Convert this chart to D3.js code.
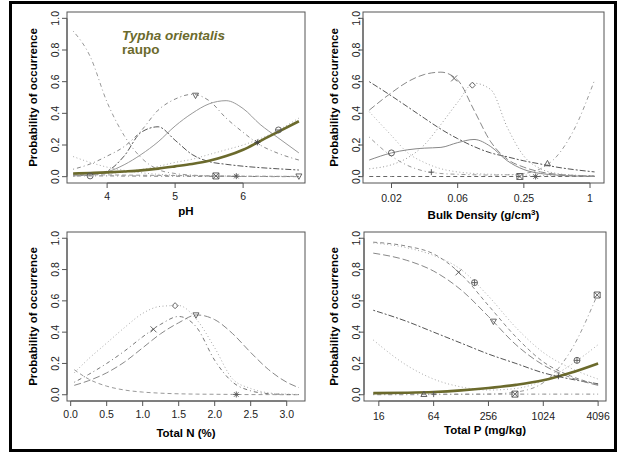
<!DOCTYPE html>
<html><head><meta charset="utf-8">
<script src="https://cdn.jsdelivr.net/npm/d3@7"></script>
<style>body{margin:0;background:#fff}svg{display:block}text{font-family:"Liberation Sans",Arial,sans-serif}</style>
</head><body><svg id="c" width="622" height="461"></svg>
<script>
// ---------------- DATA ----------------
const yTicks = [0, 0.2, 0.4, 0.6, 0.8, 1.0];
const yTickLabels = ["0.0", "0.2", "0.4", "0.6", "0.8", "1.0"];

// Panel 1 : pH
const phX = [3.5, 3.75, 4.0, 4.25, 4.5, 4.75, 5.0, 5.25, 5.5, 5.75, 6.0, 6.25, 6.5, 6.82];
const phTypha   = [0.020, 0.023, 0.027, 0.033, 0.040, 0.051, 0.065, 0.080, 0.100, 0.130, 0.170, 0.225, 0.280, 0.350];
const phSteep   = [0.92, 0.76, 0.47, 0.26, 0.12, 0.045, 0.02, 0.01, 0.004, 0.002, 0.001, 0.001, 0, 0];
const phPeakLow = [0.005, 0.012, 0.035, 0.13, 0.28, 0.315, 0.23, 0.14, 0.095, 0.078, 0.066, 0.057, 0.05, 0.042];
const phWide    = [0.047, 0.08, 0.13, 0.19, 0.29, 0.42, 0.49, 0.52, 0.48, 0.37, 0.28, 0.20, 0.15, 0.105];
const phSolid   = [0.005, 0.012, 0.03, 0.075, 0.14, 0.22, 0.32, 0.40, 0.46, 0.48, 0.43, 0.33, 0.25, 0.15];
const phRise    = [0.01, 0.015, 0.02, 0.03, 0.045, 0.065, 0.09, 0.11, 0.14, 0.17, 0.20, 0.24, 0.29, 0.37];
const phDecl    = [0.127, 0.09, 0.06, 0.04, 0.025, 0.015, 0.01, 0.007, 0.005, 0.004, 0.003, 0.002, 0.002, 0.001];
const phFlatA   = [0.006, 0.005, 0.005, 0.004, 0.004, 0.003, 0.003, 0.002, 0.002, 0.002, 0.001, 0.001, 0.001, 0.001];
const phFlatB   = [0.012, 0.012, 0.011, 0.010, 0.009, 0.008, 0.007, 0.006, 0.005, 0.004, 0.003, 0.003, 0.002, 0.002];
const phTicks = [4, 5, 6];

// Panel 2 : Bulk density (g/cm3), log-4 axis
const bdX = [0.0098, 0.0156, 0.022, 0.031, 0.044, 0.0625, 0.088, 0.125, 0.177, 0.25, 0.354, 0.5, 0.707, 1.1];
const bdCross   = [0.42, 0.53, 0.60, 0.645, 0.66, 0.61, 0.42, 0.22, 0.11, 0.06, 0.03, 0.015, 0.008, 0.004];
const bdDiamond = [0.05, 0.075, 0.12, 0.20, 0.33, 0.47, 0.59, 0.55, 0.31, 0.13, 0.05, 0.02, 0.01, 0.005];
const bdLinear  = [0.60, 0.51, 0.44, 0.37, 0.30, 0.24, 0.19, 0.15, 0.125, 0.10, 0.08, 0.06, 0.045, 0.03];
const bdSolid   = [0.105, 0.15, 0.17, 0.18, 0.185, 0.215, 0.235, 0.19, 0.10, 0.045, 0.02, 0.01, 0.004, 0.002];
const bdDotted  = [0.41, 0.26, 0.15, 0.09, 0.05, 0.03, 0.02, 0.015, 0.012, 0.01, 0.008, 0.006, 0.005, 0.004];
const bdU       = [0.25, 0.13, 0.07, 0.035, 0.02, 0.015, 0.012, 0.01, 0.012, 0.02, 0.05, 0.13, 0.29, 0.61];
const bdFlat    = [0.001, 0.001, 0.001, 0.001, 0.001, 0.001, 0.001, 0.001, 0.001, 0.001, 0.001, 0.001, 0.001, 0.001];
const bdTicks = [1/64, 1/16, 1/4, 1];
const bdTickLabels = ["0.02", "0.06", "0.25", "1"];

// Panel 3 : Total N (%)
const tnX = [0.05, 0.25, 0.5, 0.75, 1.0, 1.25, 1.5, 1.75, 2.0, 2.25, 2.5, 2.75, 3.0, 3.17];
const tnDiamond = [0.14, 0.23, 0.33, 0.43, 0.52, 0.565, 0.57, 0.48, 0.30, 0.10, 0.04, 0.012, 0.004, 0.002];
const tnCross   = [0.08, 0.13, 0.20, 0.28, 0.37, 0.45, 0.50, 0.43, 0.22, 0.08, 0.025, 0.007, 0.002, 0.001];
const tnTri     = [0.06, 0.09, 0.14, 0.21, 0.30, 0.39, 0.46, 0.51, 0.48, 0.39, 0.27, 0.16, 0.08, 0.045];
const tnDecl    = [0.16, 0.10, 0.055, 0.03, 0.017, 0.01, 0.006, 0.004, 0.003, 0.002, 0.001, 0.001, 0, 0];
const tnTicks = [0, 0.5, 1.0, 1.5, 2.0, 2.5, 3.0];
const tnTickLabels = ["0.0", "0.5", "1.0", "1.5", "2.0", "2.5", "3.0"];

// Panel 4 : Total P (mg/kg), log-4 axis
const tpX = [13.9, 32, 64, 128, 256, 512, 1024, 2048, 4096];
const tpTypha   = [0.010, 0.013, 0.018, 0.028, 0.043, 0.063, 0.092, 0.14, 0.20];
const tpCross   = [0.975, 0.95, 0.90, 0.77, 0.57, 0.37, 0.21, 0.12, 0.065];
const tpDiamond = [0.97, 0.94, 0.89, 0.80, 0.63, 0.43, 0.27, 0.17, 0.10];
const tpTri     = [0.905, 0.86, 0.79, 0.67, 0.50, 0.32, 0.19, 0.11, 0.06];
const tpLinear  = [0.54, 0.47, 0.40, 0.33, 0.26, 0.20, 0.14, 0.10, 0.07];
const tpU       = [0.35, 0.19, 0.10, 0.05, 0.03, 0.04, 0.09, 0.19, 0.32];
const tpSteep   = [0, 0, 0.001, 0.002, 0.004, 0.017, 0.077, 0.28, 0.65];
const tpFlat    = [0.004, 0.004, 0.004, 0.004, 0.004, 0.004, 0.004, 0.004, 0.004];
const tpTicks = [16, 64, 256, 1024, 4096];

const typhaTitle = "Typha orientalis";
const typhaCommon = "raupo";

// ---------------- DRAW ----------------
const OLIVE = "#6b6a2c";
const svg = d3.select("#c");
svg.append("rect").attr("x", 0).attr("y", 0).attr("width", 622).attr("height", 461).attr("fill", "#fff");
svg.append("rect").attr("x", 10.5).attr("y", 2.5).attr("width", 605).attr("height", 448)
  .attr("fill", "none").attr("stroke", "#000").attr("stroke-width", 3);

const DASH = {solid: null, dashed: "4,3", dotted: "1,2.5", dotdash: "1,3,4,3", longdash: "7,3", twodash: "2,2,6,2"};

function symbol(g, shape, cx, cy, color) {
  const r = 3;
  const s = g.append("g").attr("transform", `translate(${cx},${cy})`)
    .attr("fill", "none").attr("stroke", color).attr("stroke-width", 0.9);
  const p = d => s.append("path").attr("d", d);
  if (shape === "circle") s.append("circle").attr("r", r);
  if (shape === "tri") p(`M0,${-r}L${r},${r*0.8}L${-r},${r*0.8}Z`);
  if (shape === "itri") p(`M0,${r}L${r},${-r*0.8}L${-r},${-r*0.8}Z`);
  if (shape === "plus") p(`M${-r},0H${r}M0,${-r}V${r}`);
  if (shape === "x") p(`M${-r},${-r}L${r},${r}M${-r},${r}L${r},${-r}`);
  if (shape === "diamond") p(`M0,${-r}L${r},0L0,${r}L${-r},0Z`);
  if (shape === "boxx") p(`M${-r},${-r}H${r}V${r}H${-r}ZM${-r},${-r}L${r},${r}M${-r},${r}L${r},${-r}`);
  if (shape === "star") p(`M${-r},0H${r}M0,${-r}V${r}M${-r*0.75},${-r*0.75}L${r*0.75},${r*0.75}M${-r*0.75},${r*0.75}L${r*0.75},${-r*0.75}`);
  if (shape === "oplus") { s.append("circle").attr("r", r); p(`M${-r},0H${r}M0,${-r}V${r}`); }
  if (shape === "theta") { s.append("circle").attr("r", r); p(`M${-r},0H${r}`); }
}

function interp(xs, ys, x, log) {
  const f = log ? Math.log : (v => v);
  for (let i = 0; i < xs.length - 1; i++) {
    if (x >= xs[i] && x <= xs[i+1]) {
      const t = (f(x) - f(xs[i])) / (f(xs[i+1]) - f(xs[i]));
      return ys[i] + t * (ys[i+1] - ys[i]);
    }
  }
  return ys[ys.length - 1];
}

function panel(cfg) {
  const {L, R, T, B} = cfg;
  const g = svg.append("g");
  const x = cfg.log ? d3.scaleLog().base(4).domain(cfg.xdom).range([L, R])
                    : d3.scaleLinear().domain(cfg.xdom).range([L, R]);
  const y = d3.scaleLinear().domain([-0.04, 1.04]).range([B, T]);

  const clip = "clip" + Math.round(L) + Math.round(T);
  svg.append("clipPath").attr("id", clip).append("rect").attr("x", L).attr("y", T).attr("width", R - L).attr("height", B - T);
  const lines = g.append("g").attr("clip-path", `url(#${clip})`);

  const line = d3.line().curve(d3.curveMonotoneX);
  cfg.series.forEach(s => {
    const pts = cfg.xs.map((v, i) => [x(v), y(s.v[i])]);
    lines.append("path").attr("d", line(pts)).attr("fill", "none")
      .attr("stroke", s.c).attr("stroke-width", s.w || 1)
      .attr("stroke-dasharray", DASH[s.d]);
  });
  cfg.series.forEach(s => {
    (s.m || []).forEach(([shape, mx]) => {
      symbol(g, shape, x(mx), y(interp(cfg.xs, s.v, mx, cfg.log)), s.mc || "#555");
    });
  });

  // box
  g.append("rect").attr("x", L).attr("y", T).attr("width", R - L).attr("height", B - T)
    .attr("fill", "none").attr("stroke", "#555").attr("stroke-width", 1);

  // y axis
  const ya = g.append("g");
  yTicks.forEach((t, i) => {
    ya.append("line").attr("x1", L - 5).attr("x2", L).attr("y1", y(t)).attr("y2", y(t)).attr("stroke", "#555");
    ya.append("text").attr("transform", `translate(${cfg.ytx},${y(t)}) rotate(-90)`)
      .attr("text-anchor", "middle").attr("font-size", 10.5).attr("fill", "#222").text(yTickLabels[i]);
  });
  ya.append("line").attr("x1", L).attr("x2", L).attr("y1", y(0)).attr("y2", y(1)).attr("stroke", "#555");
  g.append("text").attr("transform", `translate(${cfg.ylx},${(T + B) / 2}) rotate(-90)`)
    .attr("text-anchor", "middle").attr("font-size", 11.5).attr("font-weight", "bold").text("Probability of occurrence");

  // x axis
  cfg.xticks.forEach((t, i) => {
    g.append("line").attr("x1", x(t)).attr("x2", x(t)).attr("y1", B).attr("y2", B + 5).attr("stroke", "#555");
    g.append("text").attr("x", x(t)).attr("y", cfg.xty).attr("text-anchor", "middle")
      .attr("font-size", 10.5).attr("fill", "#222").text(cfg.xlabels ? cfg.xlabels[i] : String(t));
  });
  g.append("line").attr("x1", x(cfg.xticks[0])).attr("x2", x(cfg.xticks[cfg.xticks.length - 1]))
    .attr("y1", B).attr("y2", B).attr("stroke", "#555");
  const xt = g.append("text").attr("x", (L + R) / 2).attr("y", cfg.xly).attr("text-anchor", "middle")
    .attr("font-size", 11.5).attr("font-weight", "bold");
  if (cfg.xtitleSup) {
    xt.append("tspan").text(cfg.xtitle);
    xt.append("tspan").attr("dy", -4).attr("font-size", 8).text(cfg.xtitleSup);
    xt.append("tspan").attr("dy", 4).text(")");
  } else xt.text(cfg.xtitle);
  return {g, x, y};
}

const p1 = panel({
  L: 67, R: 305, T: 12, B: 183, xdom: [3.41, 6.91], log: false, xs: phX,
  xticks: phTicks, xty: 200, xtitle: "pH", xly: 215, ytx: 59, ylx: 37,
  series: [
    {v: phDecl, c: "#aaa", d: "dotted"},
    {v: phFlatA, c: "#777", d: "dotdash", m: [["circle", 3.75]]},
    {v: phFlatB, c: "#999", d: "dashed", m: [["boxx", 5.6], ["star", 5.9], ["itri", 6.82]]},
    {v: phSteep, c: "#999", d: "dotdash"},
    {v: phPeakLow, c: "#555", d: "twodash"},
    {v: phWide, c: "#888", d: "dotdash", m: [["itri", 5.3]]},
    {v: phSolid, c: "#999", d: "solid"},
    {v: phRise, c: "#aaa", d: "dotted", m: [["theta", 6.52]]},
    {v: phTypha, c: OLIVE, d: "solid", w: 2.6, m: [["star", 6.21]], mc: "#444"}
  ]
});
p1.g.append("text").attr("x", 122).attr("y", 40).attr("font-size", 13.5).attr("font-weight", "bold")
  .attr("font-style", "italic").attr("fill", OLIVE).text(typhaTitle);
p1.g.append("text").attr("x", 122).attr("y", 54).attr("font-size", 13.5).attr("font-weight", "bold")
  .attr("fill", OLIVE).text(typhaCommon);

panel({
  L: 363, R: 604, T: 12, B: 183, xdom: [0.0086, 1.34], log: true, xs: bdX,
  xticks: bdTicks, xlabels: bdTickLabels, xty: 202, xtitle: "Bulk Density (g/cm", xtitleSup: "3", xly: 219,
  ytx: 360, ylx: 338,
  series: [
    {v: bdFlat, c: "#666", d: "dashed", m: [["boxx", 0.23], ["star", 0.32]]},
    {v: bdDotted, c: "#aaa", d: "dotted"},
    {v: bdU, c: "#999", d: "dotdash", m: [["plus", 0.036], ["tri", 0.41]]},
    {v: bdLinear, c: "#555", d: "twodash"},
    {v: bdSolid, c: "#888", d: "solid", m: [["circle", 0.0156]]},
    {v: bdDiamond, c: "#999", d: "dotted", m: [["diamond", 0.085]]},
    {v: bdCross, c: "#888", d: "longdash", m: [["x", 0.058]]}
  ]
});

panel({
  L: 67, R: 305, T: 232, B: 401, xdom: [-0.051, 3.254], log: false, xs: tnX,
  xticks: tnTicks, xlabels: tnTickLabels, xty: 418, xtitle: "Total N (%)", xly: 437, ytx: 59, ylx: 37,
  series: [
    {v: tnDecl, c: "#999", d: "dashed", m: [["star", 2.3]]},
    {v: tnTri, c: "#888", d: "longdash", m: [["itri", 1.74]]},
    {v: tnCross, c: "#777", d: "dotdash", m: [["x", 1.15]]},
    {v: tnDiamond, c: "#aaa", d: "dotted", m: [["diamond", 1.45]]}
  ]
});

panel({
  L: 364, R: 606, T: 232, B: 401, xdom: [11.0, 5000], log: true, xs: tpX,
  xticks: tpTicks, xty: 420, xtitle: "Total P (mg/kg)", xly: 434, ytx: 360, ylx: 338,
  series: [
    {v: tpFlat, c: "#888", d: "dotdash", m: [["tri", 50], ["plus", 64], ["boxx", 500]]},
    {v: tpU, c: "#aaa", d: "dotted", m: [["oplus", 2400]]},
    {v: tpSteep, c: "#999", d: "dotdash", m: [["boxx", 4000]]},
    {v: tpLinear, c: "#555", d: "twodash"},
    {v: tpTri, c: "#888", d: "longdash", m: [["itri", 290]]},
    {v: tpDiamond, c: "#aaa", d: "dotted", m: [["oplus", 180]]},
    {v: tpCross, c: "#888", d: "dashed", m: [["x", 120]]},
    {v: tpTypha, c: OLIVE, d: "solid", w: 2.6, m: [["plus", 1500]], mc: "#444"}
  ]
});
</script></body></html>
